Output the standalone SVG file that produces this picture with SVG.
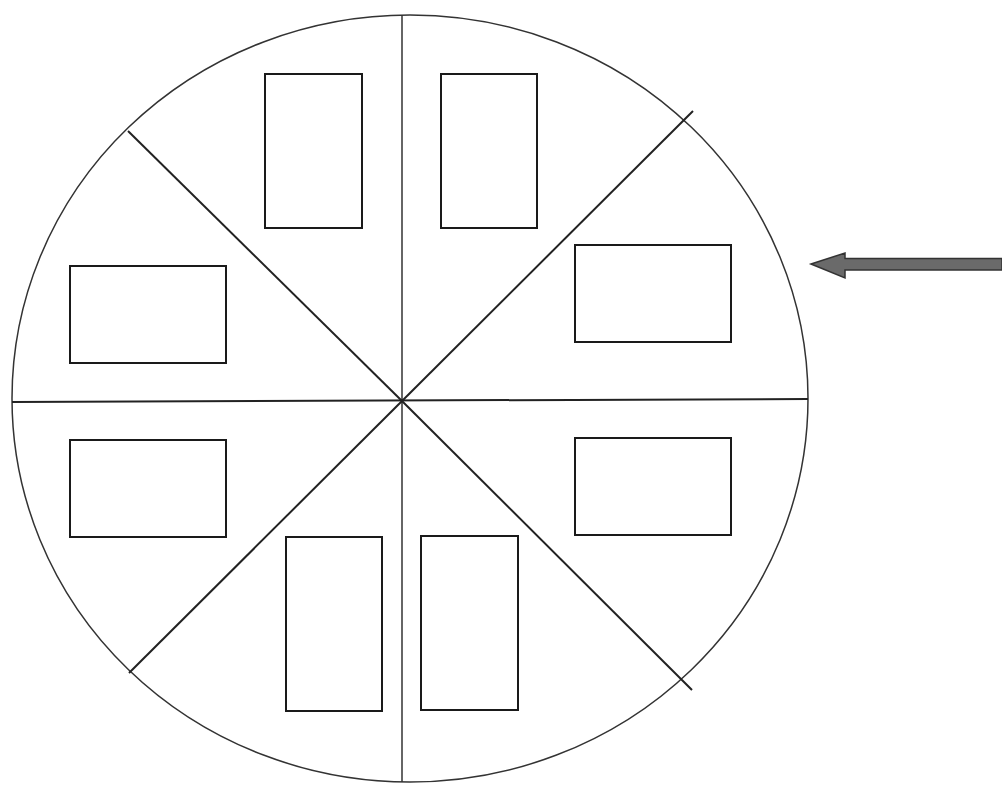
<svg xmlns="http://www.w3.org/2000/svg" width="1002" height="786" viewBox="0 0 1002 786">
<style>
.ln{stroke:#222;stroke-width:2;fill:none}
.thin{stroke:#333;stroke-width:1.5;fill:none}
.box{stroke:#1a1a1a;stroke-width:2;fill:#fff}
</style>
<rect width="1002" height="786" fill="#fff"/>
<g id="disc">
<ellipse cx="410" cy="398.5" rx="398" ry="383.5" class="thin"/>
</g>
<g id="connectors">
<line x1="402" y1="15" x2="402" y2="782" class="thin"/>
<line x1="12" y1="402" x2="808" y2="399" class="ln"/>
<line x1="402" y1="401" x2="693" y2="111" class="ln"/>
<line x1="402" y1="401" x2="128" y2="131" class="ln"/>
<line x1="402" y1="401" x2="129" y2="673" class="ln"/>
<line x1="402" y1="401" x2="692" y2="690" class="ln"/>
</g>
<g id="box1"><rect x="265" y="74" width="97" height="154" class="box"/></g>
<g id="box2"><rect x="441" y="74" width="96" height="154" class="box"/></g>
<g id="box3"><rect x="575" y="245" width="156" height="97" class="box"/></g>
<g id="box4"><rect x="70" y="266" width="156" height="97" class="box"/></g>
<g id="box5"><rect x="70" y="440" width="156" height="97" class="box"/></g>
<g id="box6"><rect x="575" y="438" width="156" height="97" class="box"/></g>
<g id="box7"><rect x="286" y="537" width="96" height="174" class="box"/></g>
<g id="box8"><rect x="421" y="536" width="97" height="174" class="box"/></g>
<g id="arrow">
<path d="M811,264 L845,253 L845,258.5 L1002,258.5 L1002,270 L845,270 L845,278 Z" fill="#6a6a6a" stroke="#333" stroke-width="1.5" stroke-linejoin="miter"/>
</g>
</svg>
